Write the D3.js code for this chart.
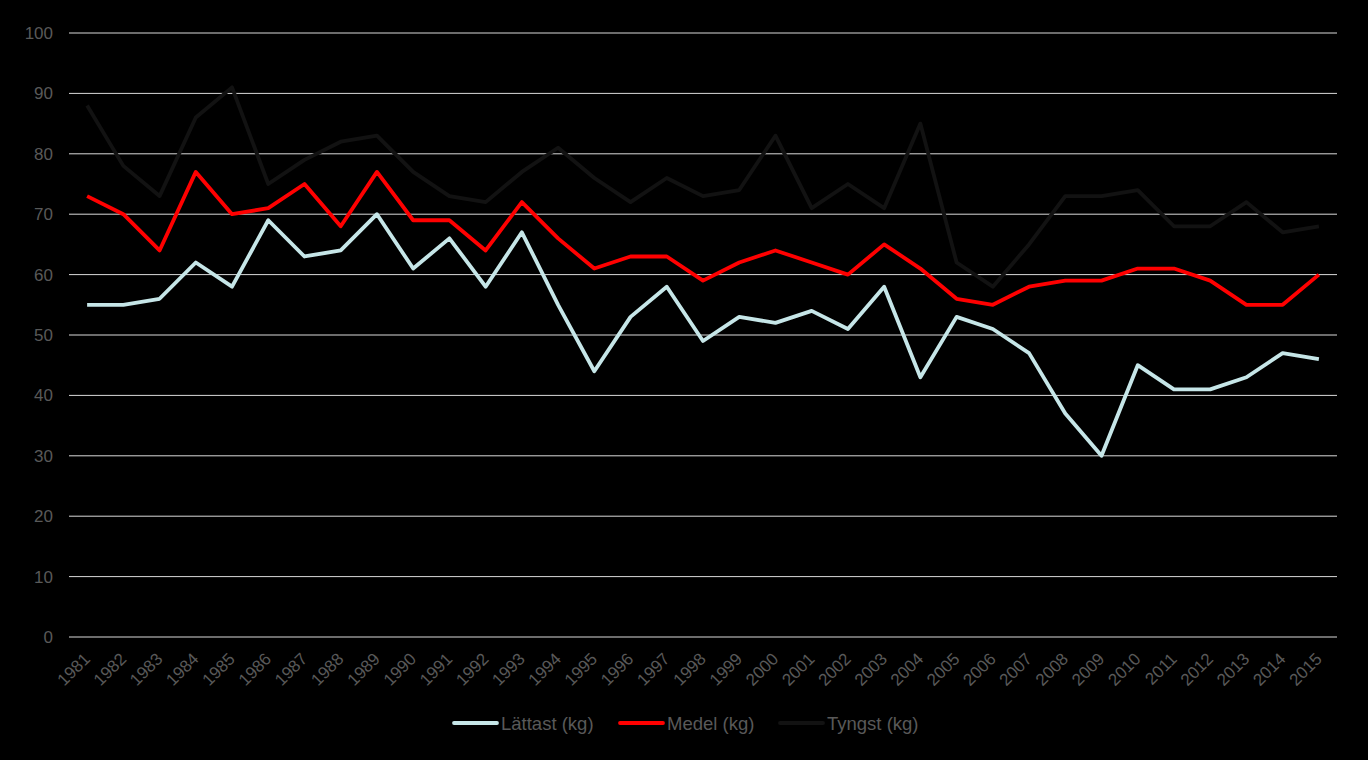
<!DOCTYPE html>
<html>
<head>
<meta charset="utf-8">
<script src="https://cdn.jsdelivr.net/npm/d3@7/dist/d3.min.js"></script>
<style>
html,body{margin:0;padding:0;background:#000;}
svg{display:block;}
text{font-family:"Liberation Sans",Arial,sans-serif;}
</style>
</head>
<body>
<svg id="chart" width="1368" height="760"></svg>
<script>
const years = [1981,1982,1983,1984,1985,1986,1987,1988,1989,1990,1991,1992,1993,1994,1995,1996,1997,1998,1999,2000,2001,2002,2003,2004,2005,2006,2007,2008,2009,2010,2011,2012,2013,2014,2015];
const lattast = [55,55,56,62,58,69,63,64,70,61,66,58,67,55,44,53,58,49,53,52,54,51,58,43,53,51,47,37,30,45,41,41,43,47,46];
const medel = [73,70,64,77,70,71,75,68,77,69,69,64,72,66,61,63,63,59,62,64,62,60,65,61,56,55,58,59,59,61,61,59,55,55,60];
const tyngst = [88,78,73,86,91,75,79,82,83,77,73,72,77,81,76,72,76,73,74,83,71,75,71,85,62,58,65,73,73,74,68,68,72,67,68];
const yTicks = [0,10,20,30,40,50,60,70,80,90,100];
const seriesNames = ["Lättast (kg)","Medel (kg)","Tyngst (kg)"];
const seriesColors = ["#c6e6e8","#ff0000","#121212"];
const seriesData = [lattast, medel, tyngst];

(function(){
const svg = d3.select("#chart");
const mLeft = 69, mRight = 1337, mTop = 33, mBottom = 637;

const x = d3.scaleBand().domain(years).range([mLeft, mRight]);
const y = d3.scaleLinear().domain([0,100]).range([mBottom, mTop]);

// gridlines
svg.append("g").selectAll("line").data(yTicks).join("line")
  .attr("x1", mLeft).attr("x2", mRight)
  .attr("y1", d => y(d)).attr("y2", d => y(d))
  .attr("stroke", "#d9d9d9").attr("stroke-width", 1);

// y axis labels
const yAxis = d3.axisLeft(y).tickValues(yTicks).tickSize(0).tickPadding(16);
const gy = svg.append("g").attr("transform", `translate(${mLeft},0)`).call(yAxis);
gy.select(".domain").remove();
gy.selectAll("text").attr("fill", "#595959").style("font-size", "17px")
  .style("font-family", '"Liberation Sans",Arial,sans-serif');

// x axis labels
const xAxis = d3.axisBottom(x).tickSize(0).tickPadding(0);
const gx = svg.append("g").attr("transform", `translate(0,${mBottom})`).call(xAxis);
gx.select(".domain").remove();
gx.selectAll("text")
  .attr("fill", "#595959").style("font-size", "17px")
  .style("font-family", '"Liberation Sans",Arial,sans-serif')
  .attr("text-anchor", "end")
  .attr("dy", "0")
  .attr("y", 0)
  .attr("transform", "translate(4,23) rotate(-45)");

// lines
const line = d3.line()
  .x((d,i) => x(years[i]) + x.bandwidth()/2)
  .y(d => y(d));

[2,1,0].forEach(k => {
  svg.append("path").datum(seriesData[k])
    .attr("fill", "none")
    .attr("stroke", seriesColors[k])
    .attr("stroke-width", 3.8)
    .attr("stroke-linejoin", "round")
    .attr("d", line);
});

// legend
const legendX = [454, 620, 780];
const lg = svg.append("g");
seriesNames.forEach((name, i) => {
  lg.append("line")
    .attr("x1", legendX[i]).attr("x2", legendX[i] + 43)
    .attr("y1", 723).attr("y2", 723)
    .attr("stroke", seriesColors[i]).attr("stroke-width", 3.8)
    .attr("stroke-linecap", "round");
  lg.append("text")
    .attr("x", legendX[i] + 47).attr("y", 729.5)
    .attr("fill", "#595959").style("font-size", "18.5px")
    .text(name);
});
})();
</script>
</body>
</html>
